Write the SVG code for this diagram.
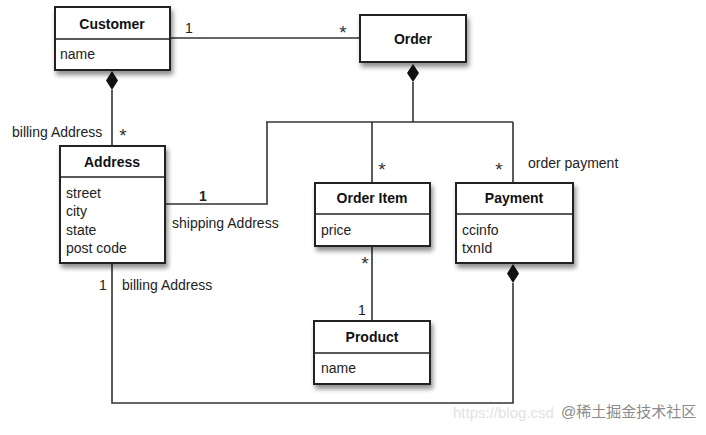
<svg xmlns="http://www.w3.org/2000/svg" width="706" height="435" viewBox="0 0 706 435">
<defs>
<filter id="sh" x="-20%" y="-20%" width="150%" height="160%">
<feGaussianBlur in="SourceAlpha" stdDeviation="2.5"/>
<feOffset dx="2" dy="4" result="b"/>
<feComponentTransfer><feFuncA type="linear" slope="0.45"/></feComponentTransfer>
<feMerge><feMergeNode/><feMergeNode in="SourceGraphic"/></feMerge>
</filter>
</defs>
<style>
.box{fill:#fff;stroke:#222;stroke-width:2;filter:url(#sh)}
.div{stroke:#222;stroke-width:1.5}
.t{font-family:"Liberation Sans",Arial,sans-serif;font-size:14px;font-weight:bold;fill:#111;text-anchor:middle}
.a{font-family:"Liberation Sans",Arial,sans-serif;font-size:14px;fill:#222}
.m{font-family:"Liberation Sans",Arial,sans-serif;font-size:14px;fill:#222}
.s{font-family:"Liberation Sans",Arial,sans-serif;font-size:19px;fill:#333;text-anchor:middle}
.c{fill:none;stroke:#333;stroke-width:1.6}
.d{fill:#111}
</style>
<rect width="706" height="435" fill="#fff"/>
<g id="connectors">
<line class="c" x1="170" y1="38" x2="360" y2="38"/>
<line class="c" x1="112" y1="90" x2="112" y2="146"/>
<line class="c" x1="413" y1="82" x2="413" y2="122"/>
<line class="c" x1="266" y1="122" x2="513" y2="122"/>
<polyline class="c" points="165,204 267,204 267,122"/>
<line class="c" x1="372" y1="122" x2="372" y2="183"/>
<line class="c" x1="513" y1="122" x2="513" y2="183"/>
<line class="c" x1="372" y1="246" x2="372" y2="321"/>
<polyline class="c" points="112,263 112,403 513,403 513,283"/>
<polygon class="d" points="112,71 118,80.5 112,90 106,80.5"/>
<polygon class="d" points="413,64 419,73 413,82 407,73"/>
<polygon class="d" points="513,264 519,273.5 513,283 507,273.5"/>
<text class="m" x="185" y="33">1</text>
<text class="s" x="343" y="39">*</text>
<text class="m" x="12" y="137">billing Address</text>
<text class="s" x="123" y="142">*</text>
<text class="m" x="199" y="201" font-weight="bold">1</text>
<text class="m" x="172" y="228">shipping Address</text>
<text class="m" x="99" y="290">1</text>
<text class="m" x="122" y="290">billing Address</text>
<text class="s" x="382" y="176">*</text>
<text class="s" x="499" y="176">*</text>
<text class="m" x="528" y="168">order payment</text>
<text class="s" x="365" y="270">*</text>
<text class="m" x="358" y="315">1</text>
</g>
<g id="customer">
<rect class="box" x="55" y="7" width="115" height="63"/>
<line class="div" x1="55" y1="39" x2="170" y2="39"/>
<text class="t" x="112" y="29">Customer</text>
<text class="a" x="60" y="59">name</text>
</g>
<g id="order">
<rect class="box" x="360" y="15" width="106" height="47"/>
<text class="t" x="413" y="44">Order</text>
</g>
<g id="address">
<rect class="box" x="60" y="146" width="105" height="117"/>
<line class="div" x1="60" y1="177" x2="165" y2="177"/>
<text class="t" x="112" y="167">Address</text>
<text class="a" x="66" y="198">street</text>
<text class="a" x="66" y="216">city</text>
<text class="a" x="66" y="234.5">state</text>
<text class="a" x="66" y="253">post code</text>
</g>
<g id="orderitem">
<rect class="box" x="315" y="183" width="115" height="63"/>
<line class="div" x1="315" y1="214" x2="430" y2="214"/>
<text class="t" x="372" y="203">Order Item</text>
<text class="a" x="321" y="235">price</text>
</g>
<g id="payment">
<rect class="box" x="456" y="183" width="117" height="80"/>
<line class="div" x1="456" y1="214" x2="573" y2="214"/>
<text class="t" x="514" y="203">Payment</text>
<text class="a" x="462" y="235">ccinfo</text>
<text class="a" x="462" y="253">txnId</text>
</g>
<g id="product">
<rect class="box" x="314" y="321" width="116" height="63"/>
<line class="div" x1="314" y1="353" x2="430" y2="353"/>
<text class="t" x="372" y="342">Product</text>
<text class="a" x="321" y="373">name</text>
</g>
<g id="watermark">
<text x="453" y="418" font-family="'Liberation Sans',Arial,sans-serif" font-size="15" fill="#e2e2e2">https://blog.csd</text>
<text x="561" y="417" font-family="'Liberation Sans','Noto Sans CJK SC',sans-serif" font-size="15" fill="#8a8a8a">@稀土掘金技术社区</text>
</g>
</svg>
